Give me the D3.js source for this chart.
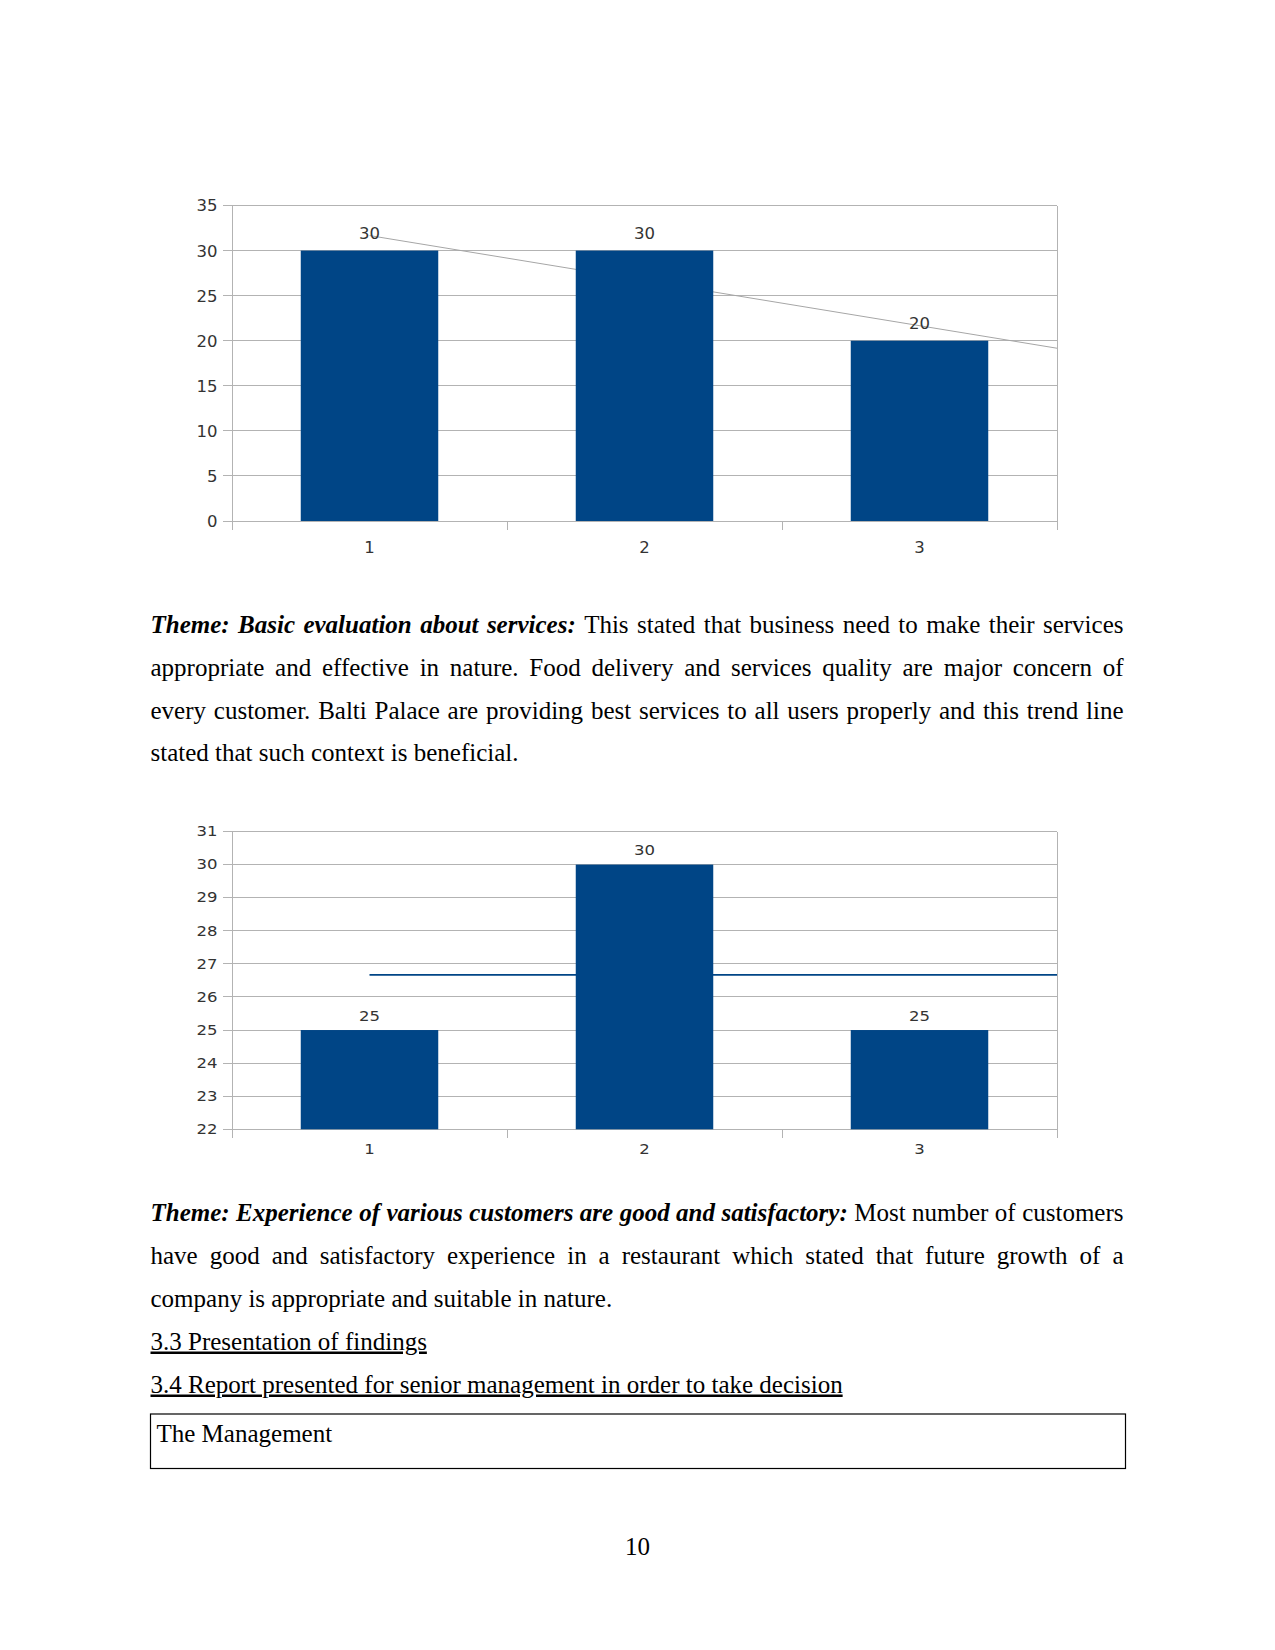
<!DOCTYPE html>
<html>
<head>
<meta charset="utf-8">
<script src="https://cdn.jsdelivr.net/npm/d3@7"></script>
<style>
  html, body { margin:0; padding:0; background:#fff; }
  svg { display:block; }
</style>
</head>
<body>
<svg id="page" width="1275" height="1650"></svg>
<script>
// ---------- DATA ----------
const categories = ["1", "2", "3"];
const servicesValues = [30, 30, 20];
const experienceValues = [25, 30, 25];
const servicesTicks = [0, 5, 10, 15, 20, 25, 30, 35];
const experienceTicks = [22, 23, 24, 25, 26, 27, 28, 29, 30, 31];

const para1Lines = [
  [{t:"Theme: Basic evaluation about services:", s:"bi"}, {t:"This stated that business need to make their services"}],
  [{t:"appropriate and effective in nature. Food delivery and services quality are major concern of"}],
  [{t:"every customer. Balti Palace are providing best services to all users properly and this trend line"}],
  [{t:"stated that such context is beneficial."}]
];
const para2Lines = [
  [{t:"Theme: Experience of various customers are good and satisfactory:", s:"bi"}, {t:"Most number of customers"}],
  [{t:"have good and satisfactory experience in a restaurant which stated that future growth of a"}],
  [{t:"company is appropriate and suitable in nature."}]
];
const heading33 = "3.3 Presentation of findings";
const heading34 = "3.4 Report presented for senior management in order to take decision";
const boxText = "The Management";
const pageNumber = "10";

// ---------- STYLE ----------
const BAR = "#004586", GRID = "#b3b3b3", TXT = "#333333";
const SANS = "'DejaVu Sans', Verdana, sans-serif";
const svg = d3.select("#page");

function drawChart(cfg) {
  const g = svg.append("g");
  const x = d3.scaleBand().domain(categories).range([cfg.left, cfg.right])
    .paddingInner(0.5).paddingOuter(0.25);
  const y = d3.scaleLinear().domain(cfg.domain).range([cfg.bottom, cfg.top]);
  const place = (px, py) => `translate(${px},${py}) scale(1,${cfg.sy})`;

  // gridlines + y tick marks
  g.append("g").selectAll("line").data(cfg.ticks).join("line")
    .attr("x1", cfg.left - 9).attr("x2", cfg.right)
    .attr("y1", d => y(d)).attr("y2", d => y(d))
    .attr("stroke", GRID).attr("stroke-width", 1).attr("shape-rendering", "crispEdges");
  // frame sides
  [cfg.left, cfg.right].forEach(xx => g.append("line")
    .attr("x1", xx).attr("x2", xx).attr("y1", cfg.top).attr("y2", cfg.bottom)
    .attr("stroke", GRID).attr("shape-rendering", "crispEdges"));
  // x ticks at category boundaries
  const edges = [cfg.left].concat(categories.slice(1).map(c => x(c) - (x.step() - x.bandwidth()) / 2)).concat([cfg.right]);
  g.append("g").selectAll("line").data(edges).join("line")
    .attr("x1", d => d).attr("x2", d => d).attr("y1", cfg.bottom).attr("y2", cfg.bottom + 9)
    .attr("stroke", GRID).attr("shape-rendering", "crispEdges");

  // y tick labels
  g.append("g").selectAll("text").data(cfg.ticks).join("text")
    .attr("transform", d => place(cfg.left - 14.5, y(d)))
    .attr("dy", "0.36em")
    .attr("text-anchor", "end").attr("font-family", SANS)
    .attr("font-size", cfg.font).attr("fill", TXT).text(d => d);

  // trend / mean line (behind bars)
  cfg.drawLine(g, x, y);

  // bars
  g.append("g").selectAll("rect").data(cfg.values).join("rect")
    .attr("x", (d, i) => x(categories[i])).attr("width", x.bandwidth())
    .attr("y", d => y(d)).attr("height", d => cfg.bottom - y(d))
    .attr("fill", BAR);

  // data labels
  g.append("g").selectAll("text").data(cfg.values).join("text")
    .attr("transform", (d, i) => place(x(categories[i]) + x.bandwidth() / 2, y(d) - cfg.labelGap))
    .attr("text-anchor", "middle").attr("font-family", SANS)
    .attr("font-size", cfg.font).attr("fill", TXT).text(d => d);

  // x labels
  g.append("g").selectAll("text").data(categories).join("text")
    .attr("transform", c => place(x(c) + x.bandwidth() / 2, cfg.xLabelY))
    .attr("text-anchor", "middle").attr("font-family", SANS)
    .attr("font-size", cfg.font).attr("fill", TXT).text(c => c);
}

// Chart 1 with linear trend line
drawChart({
  left: 232, right: 1057, top: 205.5, bottom: 521, domain: [0, 35], ticks: servicesTicks,
  values: servicesValues, font: 16.5, sy: 1, labelGap: 12, xLabelY: 553,
  drawLine: (g, x, y) => {
    const xs = servicesValues.map((d, i) => i + 1);
    const mx = d3.mean(xs), my = d3.mean(servicesValues);
    const slope = d3.sum(xs, (xi, i) => (xi - mx) * (servicesValues[i] - my)) / d3.sum(xs, xi => (xi - mx) ** 2);
    const icpt = my - slope * mx;
    const px1 = x(categories[0]) + x.bandwidth() / 2;
    const xEnd = 1 + (1057 - px1) / x.step();
    g.append("line").attr("x1", px1).attr("y1", y(slope * 1 + icpt))
      .attr("x2", 1057).attr("y2", y(slope * xEnd + icpt))
      .attr("stroke", "#a6a6a6").attr("stroke-width", 1);
  }
});

// Chart 2 with mean value line (chart is vertically compressed on the page)
drawChart({
  left: 232, right: 1057, top: 831.5, bottom: 1129.3, domain: [22, 31], ticks: experienceTicks,
  values: experienceValues, font: 16.5, sy: 0.8, labelGap: 9.5, xLabelY: 1153.5,
  drawLine: (g, x, y) => {
    const m = d3.mean(experienceValues);
    g.append("line").attr("x1", x(categories[0]) + x.bandwidth() / 2).attr("x2", 1057)
      .attr("y1", y(m)).attr("y2", y(m))
      .attr("stroke", BAR).attr("stroke-width", 1.6);
  }
});

// ---------- TEXT ----------
const SERIF = "'Liberation Serif', 'Times New Roman', serif";
const FS = 25, LEFT = 150.5, RIGHT = 1123.5;

function measure(str, style) {
  const t = svg.append("text").attr("font-family", SERIF).attr("font-size", FS)
    .attr("font-weight", style === "bi" ? "bold" : "normal")
    .attr("font-style", style === "bi" ? "italic" : "normal").text(str);
  const w = t.node().getComputedTextLength();
  t.remove();
  return w;
}

function drawLine(runs, baseline, justify) {
  const words = [];
  runs.forEach(r => r.t.split(" ").filter(w => w.length).forEach(w => words.push({w, s: r.s})));
  words.forEach(o => o.width = measure(o.w, o.s));
  const total = d3.sum(words, o => o.width);
  const space = measure("a b", null) - measure("ab", null);
  const gap = justify && words.length > 1 ? (RIGHT - LEFT - total) / (words.length - 1) : space;
  let cx = LEFT;
  const t = svg.append("text").attr("font-family", SERIF).attr("font-size", FS).attr("fill", "#000");
  words.forEach(o => {
    t.append("tspan").attr("x", cx).attr("y", baseline)
      .attr("font-weight", o.s === "bi" ? "bold" : "normal")
      .attr("font-style", o.s === "bi" ? "italic" : "normal").text(o.w);
    cx += o.width + gap;
  });
}

const p1Base = [633, 676, 718.5, 761];
para1Lines.forEach((ln, i) => drawLine(ln, p1Base[i], i < para1Lines.length - 1));
const p2Base = [1221, 1264, 1307];
para2Lines.forEach((ln, i) => drawLine(ln, p2Base[i], i < para2Lines.length - 1));

[[heading33, 1349.5], [heading34, 1392.5]].forEach(([s, yb]) => {
  svg.append("text").attr("x", LEFT).attr("y", yb).attr("font-family", SERIF).attr("font-size", FS)
    .attr("fill", "#000").style("text-decoration", "underline").text(s);
});

svg.append("rect").attr("x", 150.5).attr("y", 1414).attr("width", 975).attr("height", 54.5)
  .attr("fill", "none").attr("stroke", "#000").attr("stroke-width", 1.2);
svg.append("text").attr("x", 156.5).attr("y", 1442).attr("font-family", SERIF).attr("font-size", FS)
  .attr("fill", "#000").text(boxText);

svg.append("text").attr("x", 637.5).attr("y", 1555).attr("text-anchor", "middle")
  .attr("font-family", SERIF).attr("font-size", FS).attr("fill", "#000").text(pageNumber);
</script>
</body>
</html>
